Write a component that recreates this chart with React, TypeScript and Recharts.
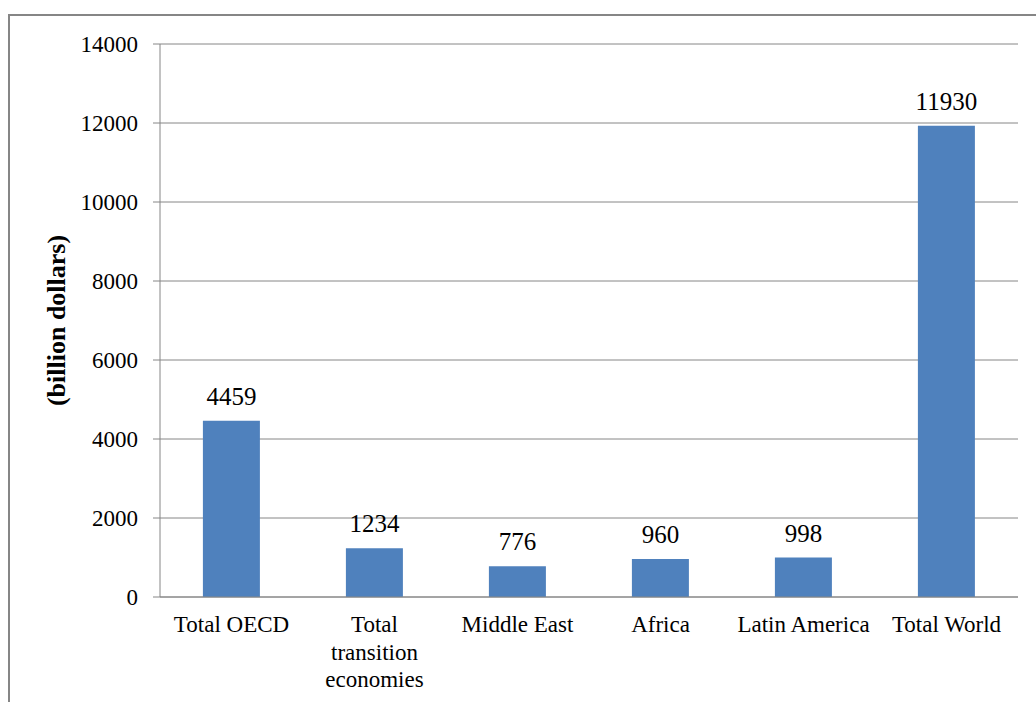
import { Bar, BarChart, CartesianGrid, LabelList, XAxis, YAxis } from "recharts";

// region names, split into the lines they are printed on under the axis
const regions = [
  ["Total OECD"],
  ["Total", "transition", "economies"],
  ["Middle East"],
  ["Africa"],
  ["Latin America"],
  ["Total World"],
];
const investment = [4459, 1234, 776, 960, 998, 11930];
const yTicks = [0, 2000, 4000, 6000, 8000, 10000, 12000, 14000];

const chartData = regions.map((lines, i) => ({ name: lines.join(" "), value: investment[i] }));

const FONT = "Liberation Serif, Times New Roman, serif";
const GRID = "#868686";

const RegionTick = ({ x, y, index }: any) => {
  const lines = regions[index] || [];
  return (
    <text x={x} y={y + 35} textAnchor="middle" style={{ fontFamily: FONT, fontSize: 23 }} fill="#000">
      {lines.map((line, i) => (
        <tspan key={line} x={x} dy={i === 0 ? 0 : 27.5}>
          {line}
        </tspan>
      ))}
    </text>
  );
};

export default function App() {
  return (
    <div
      style={{
        position: "fixed",
        left: 0,
        top: 0,
        width: 1036,
        height: 702,
        background: "#fff",
        overflow: "hidden",
        fontFamily: FONT,
      }}
    >
      <div
        style={{
          position: "absolute",
          left: 8,
          top: 14,
          width: 1100,
          height: 720,
          borderTop: `2px solid ${GRID}`,
          borderLeft: `2px solid ${GRID}`,
        }}
      />
      <div style={{ position: "absolute", left: 0, top: 0 }}>
        <BarChart
          width={1036}
          height={702}
          data={chartData}
          margin={{ top: 44, right: 18, left: 0, bottom: 0 }}
          barCategoryGap="30%"
          style={{ fontFamily: FONT }}
        >
          <CartesianGrid vertical={false} stroke={GRID} />
          <XAxis
            dataKey="name"
            height={105}
            axisLine={{ stroke: GRID }}
            tickLine={false}
            tickSize={0}
            tickMargin={0}
            interval={0}
            tick={<RegionTick />}
          />
          <YAxis
            width={160}
            domain={[0, 14000]}
            ticks={yTicks}
            interval={0}
            axisLine={{ stroke: GRID }}
            tickLine={{ stroke: GRID }}
            tickSize={7}
            tickMargin={15}
            tick={{ fill: "#000", fontSize: 23, style: { fontFamily: FONT } }}
            label={{
              value: "(billion dollars)",
              angle: -90,
              position: "insideLeft",
              offset: 56,
              style: { textAnchor: "middle", fontFamily: FONT, fontSize: 26, fontWeight: "bold", fill: "#000" },
            }}
          />
          <Bar dataKey="value" fill="#4F81BD" isAnimationActive={false}>
            <LabelList
              dataKey="value"
              position="top"
              offset={16}
              fill="#000"
              fontSize={25}
              style={{ fontFamily: FONT }}
            />
          </Bar>
        </BarChart>
      </div>
    </div>
  );
}
